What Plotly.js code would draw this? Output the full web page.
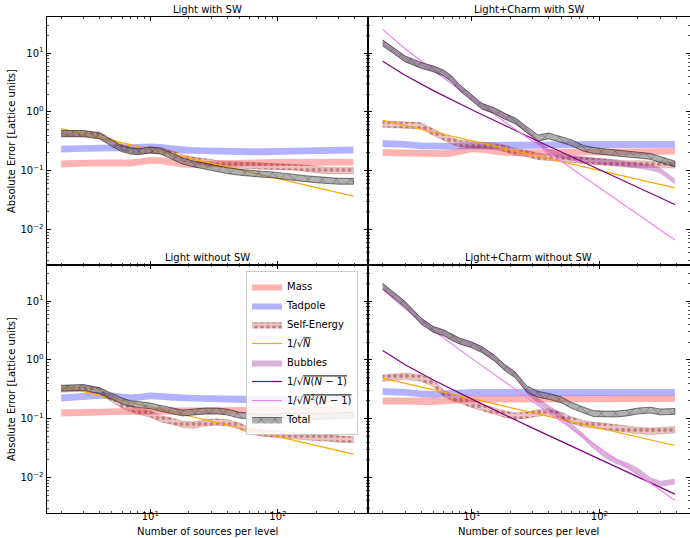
<!DOCTYPE html>
<html><head><meta charset="utf-8">
<script src="https://cdn.plot.ly/plotly-3.0.1.min.js"></script>
<style>html,body{margin:0;padding:0;background:#fff}</style>
</head><body><div id="chart" style="width:690px;height:538px"></div>
<script>
// ---------- data ----------
const N = [2,3,4,5,6,7,8,10,12,15,18,22,27,33,40,50,60,75,90,110,135,165,200,250,300,390];
const N_ends = [2, 390];
const N_lines = [2,3,5,10,30,100,390];

// Light with SW
const massLightSW = [0.13,0.135,0.135,0.135,0.135,0.135,0.14,0.15,0.148,0.138,0.13,0.127,0.127,0.13,0.132,0.135,0.136,0.137,0.138,0.138,0.139,0.14,0.14,0.14,0.14,0.14];
const tadLightSW  = [0.232,0.24,0.245,0.245,0.245,0.245,0.25,0.255,0.25,0.235,0.225,0.22,0.218,0.215,0.213,0.212,0.21,0.21,0.21,0.212,0.215,0.218,0.22,0.222,0.225,0.225];
const seLightSW   = [0.42,0.42,0.4,0.31,0.25,0.225,0.215,0.225,0.22,0.19,0.165,0.15,0.14,0.132,0.128,0.125,0.122,0.12,0.118,0.117,0.115,0.11,0.105,0.1,0.1,0.1];
const totLightSW  = [0.43,0.43,0.39,0.29,0.235,0.215,0.21,0.225,0.215,0.175,0.145,0.13,0.118,0.108,0.1,0.094,0.09,0.087,0.085,0.08,0.077,0.073,0.07,0.067,0.066,0.066];
const sqrtLightSW = [0.52, 0.037];

// Light+Charm with SW
const massCharmSW = [0.205,0.2,0.198,0.195,0.195,0.2,0.21,0.235,0.23,0.215,0.205,0.2,0.2,0.205,0.205,0.205,0.205,0.21,0.21,0.21,0.21,0.21,0.21,0.21,0.212,0.215];
const tadCharmSW  = [0.29,0.28,0.265,0.26,0.26,0.26,0.265,0.27,0.27,0.27,0.27,0.27,0.27,0.27,0.275,0.275,0.275,0.28,0.28,0.28,0.28,0.28,0.28,0.28,0.28,0.28];
const seCharmSW   = [0.62,0.6,0.58,0.45,0.37,0.32,0.29,0.28,0.27,0.26,0.24,0.21,0.195,0.175,0.165,0.16,0.155,0.15,0.145,0.14,0.135,0.13,0.13,0.13,0.128,0.125];
const bubCharmSW  = [15,8.0,6.2,5.4,4.6,3.6,2.6,1.75,1.25,1.05,0.85,0.7,0.48,0.3,0.21,0.18,0.165,0.155,0.148,0.142,0.137,0.13,0.122,0.113,0.1,0.065];
const totCharmSW  = [15,8.0,6.2,5.4,4.6,3.6,2.6,1.75,1.25,1.05,0.85,0.7,0.5,0.36,0.39,0.34,0.3,0.24,0.22,0.21,0.2,0.19,0.185,0.175,0.155,0.13];
const sqrtCharmSW = [0.72, 0.051];
const pairCharmSW = [7.3,4.2,2.3,1.09,0.35,0.104,0.0265];
const tripCharmSW = [25.3,11.9,5.06,1.69,0.313,0.0509,0.0066];

// Light without SW
const massLight = [0.125,0.128,0.13,0.132,0.133,0.133,0.134,0.135,0.135,0.135,0.135,0.135,0.135,0.136,0.137,0.138,0.138,0.139,0.14,0.14,0.14,0.14,0.14,0.14,0.14,0.14];
const tadLight  = [0.225,0.24,0.25,0.245,0.235,0.225,0.23,0.245,0.24,0.23,0.225,0.222,0.22,0.218,0.215,0.213,0.21,0.21,0.21,0.212,0.215,0.218,0.22,0.222,0.225,0.225];
const seLight   = [0.32,0.33,0.3,0.22,0.17,0.15,0.135,0.12,0.1,0.09,0.08,0.078,0.085,0.088,0.085,0.075,0.062,0.057,0.055,0.053,0.052,0.05,0.048,0.047,0.045,0.044];
const totLight  = [0.33,0.34,0.3,0.24,0.2,0.18,0.175,0.165,0.15,0.135,0.125,0.13,0.135,0.135,0.13,0.115,0.11,0.105,0.105,0.11,0.11,0.108,0.108,0.11,0.112,0.115];
const sqrtLight = [0.355, 0.025];

// Light+Charm without SW
const massCharm = [0.2,0.2,0.195,0.195,0.2,0.205,0.21,0.215,0.215,0.215,0.218,0.22,0.22,0.22,0.22,0.22,0.22,0.22,0.22,0.22,0.22,0.22,0.22,0.22,0.22,0.22];
const tadCharm  = [0.29,0.28,0.265,0.26,0.265,0.27,0.275,0.28,0.28,0.28,0.28,0.28,0.28,0.28,0.28,0.28,0.28,0.28,0.28,0.28,0.28,0.28,0.28,0.28,0.28,0.28];
const seCharm   = [0.49,0.53,0.49,0.4,0.27,0.23,0.21,0.175,0.155,0.135,0.12,0.11,0.115,0.125,0.13,0.115,0.095,0.082,0.077,0.074,0.07,0.067,0.063,0.061,0.062,0.065];
const bubCharm  = [18,8.8,4.6,3.3,2.9,2.4,2.1,1.8,1.5,1.08,0.75,0.55,0.3,0.2,0.15,0.11,0.075,0.05,0.034,0.024,0.019,0.016,0.013,0.009,0.0078,0.0085];
const totCharm  = [18,8.8,4.6,3.3,2.9,2.4,2.1,1.8,1.5,1.08,0.75,0.55,0.32,0.26,0.24,0.21,0.17,0.14,0.122,0.12,0.12,0.125,0.135,0.14,0.13,0.133];
const sqrtCharm = [0.49, 0.035];
const pairCharm = [1.44,0.83,0.455,0.215,0.069,0.0205,0.0052];
const tripCharm = [15.8,7.45,3.16,1.053,0.196,0.0318,0.0041];

// band half-thickness in decades (reading of the band widths)
const bandHalf = {mass:0.058, tad:0.058, se:0.055, bub:0.05, tot:0.05};

const names = {
  mass:'Mass', tad:'Tadpole', se:'Self-Energy',
  sqrt:"1/√<span style='text-decoration:overline'><i>N</i></span>",
  bub:'Bubbles',
  pair:"1/√<span style='text-decoration:overline'><i>N</i>(<i>N</i> − 1)</span>",
  trip:"1/√<span style='text-decoration:overline'><i>N</i><sup>2</sup>(<i>N</i> − 1)</span>",
  tot:'Total'
};
const rank = {mass:1,tad:2,se:3,sqrt:4,bub:5,pair:6,trip:7,tot:8};

// ---------- styles ----------
const bandStyle = {
  mass:{fillcolor:'rgba(255,0,0,0.3)', line:{width:0}},
  tad:{fillcolor:'rgba(0,0,255,0.3)', line:{width:0}},
  se:{fillcolor:'rgba(178,60,60,0.35)', line:{width:0.6, color:'rgba(165,42,42,0.35)'},
      fillpattern:{shape:'.', fgcolor:'rgba(150,40,40,0.45)', bgcolor:'rgba(178,60,60,0.3)', size:6, solidity:0.35}},
  bub:{fillcolor:'rgba(128,0,128,0.3)', line:{width:0}},
  tot:{fillcolor:'rgba(110,110,110,0.55)', line:{width:0.7, color:'rgba(0,0,0,0.7)'},
       fillpattern:{shape:'x', fgcolor:'rgba(0,0,0,0.6)', bgcolor:'rgba(110,110,110,0.55)', size:10, solidity:0.08}}
};
const lineStyle = {
  sqrt:{color:'#ffa500', width:1.2},
  pair:{color:'#800080', width:1.2},
  trip:{color:'#ee82ee', width:1.1}
};

const traces = [];
function band(key, vals, xa, ya, legend){
  const h = Math.pow(10, bandHalf[key]);
  const up = vals.map(v => v*h);
  const lo = vals.map(v => v/h).reverse();
  const t = Object.assign({
    type:'scatter', mode:'lines', x:N.concat(N.slice().reverse()), y:up.concat(lo),
    fill:'toself', xaxis:xa, yaxis:ya, name:names[key], showlegend:legend,
    legendrank:rank[key], hoverinfo:'skip'
  }, JSON.parse(JSON.stringify(bandStyle[key])));
  traces.push(t);
}
function curve(key, xs, vals, xa, ya, legend){
  traces.push({type:'scatter', mode:'lines', x:xs, y:vals, xaxis:xa, yaxis:ya,
    line:lineStyle[key], name:names[key], showlegend:legend, legendrank:rank[key], hoverinfo:'skip'});
}

// Light with SW (x, y)
band('mass', massLightSW, 'x', 'y', false);
band('tad', tadLightSW, 'x', 'y', false);
band('se', seLightSW, 'x', 'y', false);
curve('sqrt', N_ends, sqrtLightSW, 'x', 'y', false);
band('tot', totLightSW, 'x', 'y', false);

// Light+Charm with SW (x2, y2)
band('mass', massCharmSW, 'x2', 'y2', false);
band('tad', tadCharmSW, 'x2', 'y2', false);
band('se', seCharmSW, 'x2', 'y2', false);
curve('sqrt', N_ends, sqrtCharmSW, 'x2', 'y2', false);
band('bub', bubCharmSW, 'x2', 'y2', false);
curve('pair', N_lines, pairCharmSW, 'x2', 'y2', false);
curve('trip', N_lines, tripCharmSW, 'x2', 'y2', false);
band('tot', totCharmSW, 'x2', 'y2', false);

// Light without SW (x3, y3)
band('mass', massLight, 'x3', 'y3', false);
band('tad', tadLight, 'x3', 'y3', false);
band('se', seLight, 'x3', 'y3', false);
curve('sqrt', N_ends, sqrtLight, 'x3', 'y3', false);
band('tot', totLight, 'x3', 'y3', false);

// Light+Charm without SW (x4, y4) -> legend entries
band('mass', massCharm, 'x4', 'y4', true);
band('tad', tadCharm, 'x4', 'y4', true);
band('se', seCharm, 'x4', 'y4', true);
curve('sqrt', N_ends, sqrtCharm, 'x4', 'y4', true);
band('bub', bubCharm, 'x4', 'y4', true);
curve('pair', N_lines, pairCharm, 'x4', 'y4', true);
curve('trip', N_lines, tripCharm, 'x4', 'y4', true);
band('tot', totCharm, 'x4', 'y4', true);

// ---------- layout ----------
const W = 690, H = 538;
const xL = [46.5/W, 368/W], xR = [368/W, 689.5/W];
const yT = [1-265/H, 1-17/H], yB = [1-513/H, 1-265/H];
const FONT = 'DejaVu Sans, Liberation Sans, sans-serif';

function xax(dom, labels, anchor){
  return {type:'log', domain:dom, range:[0.1865, 2.7055], anchor:anchor,
    showgrid:false, zeroline:false, showline:true, linecolor:'#000', linewidth:1, mirror:'allticks',
    ticks:'inside', ticklen:4, tickwidth:1, tickcolor:'#000',
    tickmode:'array', tickvals:[10,100], ticktext:['10<sup>1</sup>','10<sup>2</sup>'],
    showticklabels:labels, tickfont:{size:10, color:'#000', family:FONT}, ticklabelstandoff:-6,
    minor:{ticks:'inside', ticklen:2, tickwidth:0.7, tickcolor:'#000', dtick:'D1', showgrid:false},
    automargin:false, fixedrange:true};
}
function yax(dom, labels, anchor){
  return {type:'log', domain:dom, range:[-2.605, 1.615], anchor:anchor,
    showgrid:false, zeroline:false, showline:true, linecolor:'#000', linewidth:1, mirror:'allticks',
    ticks:'inside', ticklen:4, tickwidth:1, tickcolor:'#000',
    tickmode:'array', tickvals:[0.01,0.1,1,10],
    ticktext:['10<sup>−2</sup>','10<sup>−1</sup>','10<sup>0</sup>','10<sup>1</sup>'],
    showticklabels:labels, tickfont:{size:10, color:'#000', family:FONT},
    minor:{ticks:'inside', ticklen:2, tickwidth:0.7, tickcolor:'#000', dtick:'D1', showgrid:false},
    automargin:false, fixedrange:true};
}

const ann = (text, x, y, extra) => Object.assign({text, x, y, xref:'paper', yref:'paper',
  showarrow:false, xanchor:'center', yanchor:'middle', font:{size:10, color:'#000', family:FONT}}, extra||{});

const layout = {
  width:W, height:H, margin:{l:0, r:0, t:0, b:0},
  paper_bgcolor:'#fff', plot_bgcolor:'#fff',
  font:{family:FONT, size:10, color:'#000'},
  xaxis: xax(xL, false, 'y'),  yaxis: yax(yT, true, 'x'),
  xaxis2: xax(xR, false, 'y2'), yaxis2: yax(yT, false, 'x2'),
  xaxis3: xax(xL, true, 'y3'),  yaxis3: yax(yB, true, 'x3'),
  xaxis4: xax(xR, true, 'y4'),  yaxis4: yax(yB, false, 'x4'),
  showlegend:true,
  legend:{x:358/W, y:1-271/H, xanchor:'right', yanchor:'top', traceorder:'normal',
    bgcolor:'rgba(255,255,255,0.85)', bordercolor:'#cccccc', borderwidth:1,
    font:{size:10, family:FONT, color:'#000'}, itemwidth:30, tracegroupgap:0},
  annotations:[
    ann('Light with SW', (xL[0]+xL[1])/2, 1-10/H),
    ann('Light+Charm with SW', (xR[0]+xR[1])/2, 1-10/H),
    ann('Light without SW', (xL[0]+xL[1])/2, 1-257.5/H),
    ann('Light+Charm without SW', (xR[0]+xR[1])/2, 1-257.5/H),
    ann('Absolute Error [Lattice units]', 11/W, 1-141/H, {textangle:-90}),
    ann('Absolute Error [Lattice units]', 11/W, 1-389/H, {textangle:-90}),
    ann('Number of sources per level', (xL[0]+xL[1])/2, 1-531/H),
    ann('Number of sources per level', (xR[0]+xR[1])/2, 1-531/H)
  ]
};

Plotly.newPlot('chart', traces, layout, {staticPlot:true, displayModeBar:false});
</script></body></html>
